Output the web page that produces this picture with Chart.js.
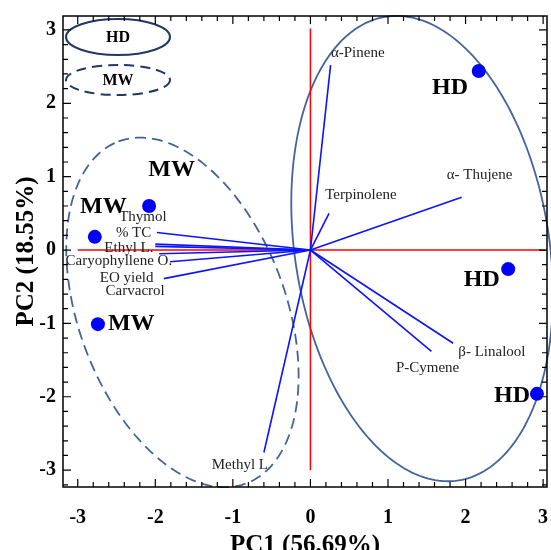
<!DOCTYPE html>
<html><head><meta charset="utf-8">
<script src="https://cdn.jsdelivr.net/npm/chart.js@4.4.1/dist/chart.umd.min.js"></script>
<style>html,body{margin:0;padding:0;background:#fff;}#wrap{width:551px;height:550px;}</style>
</head><body><div id="wrap"><canvas id="c" width="551" height="550"></canvas></div>
<script>
// ---- data ----
const groups = ['HD', 'HD', 'HD', 'MW', 'MW', 'MW'];
const pc1 = [2.17, 2.55, 2.92, -2.08, -2.78, -2.74];
const pc2 = [2.44, -0.26, -1.96, 0.60, 0.18, -1.01];
const groupLabelX = [1.80, 2.21, 2.60, -1.79, -2.67, -2.31];
const groupLabelY = [2.21, -0.40, -1.99, 1.09, 0.59, -1.01];

const variables = ['α-Pinene', 'Terpinolene', 'α- Thujene', 'β- Linalool', 'P-Cymene', 'Methyl L',
  'Thymol', '% TC', 'Ethyl L.', 'Caryophyllene O.', 'EO yield', 'Carvacrol'];
const loadX = [0.26, 0.24, 1.95, 1.84, 1.56, -0.60, -2.00, -1.98, -2.00, -1.81, -1.89, -1.95];
const loadY = [2.52, 0.50, 0.72, -1.27, -1.38, -2.76, 0.08, 0.24, 0.05, -0.16, -0.39, -0.05];
const varLabelX = [0.61, 0.65, 2.18, 2.34, 1.51, -0.91, -2.16, -2.28, -2.34, -2.47, -2.37, -2.26];
const varLabelY = [2.69, 0.75, 1.02, -1.39, -1.61, -2.93, 0.45, 0.23, 0.03, -0.15, -0.38, -0.56];

const xTicks = [-3, -2, -1, 0, 1, 2, 3];
const yTicks = [-3, -2, -1, 0, 1, 2, 3];
const axisRefX = [-3.0, 3.03];
const axisRefY = [-3.0, 3.02];

// group ellipses: centre and two conjugate semi-axes (data units)
const ellGroup = ['HD', 'MW'];
const ellCentre = [[1.44, 0.02], [-1.65, -0.85]];
const ellAxisU = [[-0.47, 3.16], [-0.825, 2.33]];
const ellAxisV = [[1.62, 0.27], [1.25, 0.50]];

// ---- styles ----
const SERIF = '"Liberation Serif", "DejaVu Serif", serif';
const ELL_COLOR = '#42649b';
const LEG_COLOR = '#1f3864';

const datasets = [];
datasets.push({type: 'line', data: [{x: axisRefX[0], y: 0}, {x: axisRefX[1], y: 0}],
  borderColor: '#ff0000', borderWidth: 1.5, pointRadius: 0, order: 3});
datasets.push({type: 'line', data: [{x: 0, y: axisRefY[0]}, {x: 0, y: axisRefY[1]}],
  borderColor: '#ff0000', borderWidth: 1.5, pointRadius: 0, order: 3});
variables.forEach((v, i) => {
  datasets.push({type: 'line', label: v, data: [{x: 0, y: 0}, {x: loadX[i], y: loadY[i]}],
    borderColor: '#0a14ff', borderWidth: 1.6, pointRadius: 0, order: 2});
});
datasets.push({type: 'scatter', label: 'scores', data: pc1.map((x, i) => ({x, y: pc2[i]})),
  backgroundColor: '#0000ff', borderWidth: 0, pointRadius: 7, order: 1});

const ellipsePlugin = {
  id: 'ellipses',
  beforeDatasetsDraw(chart) {
    const {ctx, scales: {x, y}, chartArea: a} = chart;
    ctx.save();
    ellGroup.forEach((g, k) => {
      ctx.beginPath();
      const n = 240;
      for (let i = 0; i <= n; i++) {
        const t = 2 * Math.PI * i / n;
        const dx = ellCentre[k][0] + ellAxisU[k][0] * Math.cos(t) + ellAxisV[k][0] * Math.sin(t);
        const dy = ellCentre[k][1] + ellAxisU[k][1] * Math.cos(t) + ellAxisV[k][1] * Math.sin(t);
        const px = x.getPixelForValue(dx), py = y.getPixelForValue(dy);
        if (i === 0) ctx.moveTo(px, py); else ctx.lineTo(px, py);
      }
      ctx.strokeStyle = ELL_COLOR;
      ctx.lineWidth = 1.8;
      ctx.setLineDash(g === 'MW' ? [11, 6] : []);
      ctx.stroke();
    });
    // legend
    ctx.setLineDash([]);
    ctx.strokeStyle = LEG_COLOR;
    ctx.lineWidth = 2;
    const lx = a.left + 55;
    ctx.beginPath(); ctx.ellipse(lx, a.top + 21, 52, 18, 0, 0, 2 * Math.PI); ctx.stroke();
    ctx.setLineDash([10, 6]);
    ctx.beginPath(); ctx.ellipse(lx, a.top + 64, 52, 15, 0, 0, 2 * Math.PI); ctx.stroke();
    ctx.setLineDash([]);
    ctx.fillStyle = '#000';
    ctx.font = 'bold 16px ' + SERIF;
    ctx.textAlign = 'center'; ctx.textBaseline = 'middle';
    ctx.fillText(ellGroup[0], lx, a.top + 22);
    ctx.fillText(ellGroup[1], lx, a.top + 65);
    ctx.restore();
  }
};

const framePlugin = {
  id: 'frame',
  afterDatasetsDraw(chart) {
    const {ctx, chartArea: a, scales: {x, y}} = chart;
    ctx.save();
    // text labels
    ctx.textAlign = 'center'; ctx.textBaseline = 'middle';
    ctx.fillStyle = '#222';
    ctx.font = '15px ' + SERIF;
    variables.forEach((v, i) => {
      ctx.fillText(v, x.getPixelForValue(varLabelX[i]), y.getPixelForValue(varLabelY[i]));
    });
    ctx.fillStyle = '#000';
    ctx.font = 'bold 24px ' + SERIF;
    groups.forEach((g, i) => {
      ctx.fillText(g, x.getPixelForValue(groupLabelX[i]), y.getPixelForValue(groupLabelY[i]));
    });
    // frame and inward ticks
    ctx.strokeStyle = '#000';
    ctx.lineWidth = 1.5;
    ctx.strokeRect(a.left, a.top, a.right - a.left, a.bottom - a.top);
    ctx.lineWidth = 1.2;
    ctx.beginPath();
    for (let i = -20; i <= 20; i++) {
      const v = i / 5;
      const len = i % 5 === 0 ? 8 : 5;
      if (v >= x.min && v <= x.max) {
        const px = x.getPixelForValue(v);
        ctx.moveTo(px, a.bottom); ctx.lineTo(px, a.bottom - len);
        ctx.moveTo(px, a.top); ctx.lineTo(px, a.top + len);
      }
      if (v >= y.min && v <= y.max) {
        const py = y.getPixelForValue(v);
        ctx.moveTo(a.left, py); ctx.lineTo(a.left + len, py);
        ctx.moveTo(a.right, py); ctx.lineTo(a.right - len, py);
      }
    }
    ctx.stroke();
    ctx.restore();
  }
};

const tickFont = {family: SERIF, size: 20, weight: 'bold'};
const titleFont = {family: SERIF, size: 25, weight: 'bold'};

new Chart(document.getElementById('c'), {
  type: 'scatter',
  data: {datasets},
  options: {
    responsive: false,
    devicePixelRatio: 1,
    animation: false,
    layout: {padding: {left: 0, right: 0, top: 16, bottom: 0}},
    plugins: {legend: {display: false}, tooltip: {enabled: false}},
    scales: {
      x: {
        type: 'linear', min: -3.19, max: 3.05, offset: false,
        grid: {display: false, drawTicks: false}, border: {display: false},
        afterBuildTicks: s => { s.ticks = xTicks.map(v => ({value: v})); },
        afterFit: s => { s.height = 63; s.paddingLeft = 0; s.paddingRight = 0; },
        ticks: {font: tickFont, color: '#000', padding: 19, maxRotation: 0},
        title: {display: true, text: 'PC1 (56.69%)', font: titleFont, color: '#000', padding: {top: 0, bottom: -11}}
      },
      y: {
        type: 'linear', min: -3.23, max: 3.19, offset: false,
        grid: {display: false, drawTicks: false}, border: {display: false},
        afterBuildTicks: s => { s.ticks = yTicks.map(v => ({value: v})); },
        afterFit: s => { s.width = 63; s.paddingTop = 0; s.paddingBottom = 0; },
        ticks: {font: tickFont, color: '#000', padding: 7},
        title: {display: true, text: 'PC2 (18.55%)', font: titleFont, color: '#000', padding: {top: 12, bottom: 0}}
      }
    }
  },
  plugins: [ellipsePlugin, framePlugin, {
    id: 'fixArea',
    afterLayout(chart) {
      // keep plot frame where the reference has it
      const a = chart.chartArea;
      a.right = chart.width - 4;
      a.width = a.right - a.left;
      const xs = chart.scales.x;
      xs.right = a.right; xs.width = a.width;
      xs.configure();
    }
  }]
});
</script>
</body></html>
